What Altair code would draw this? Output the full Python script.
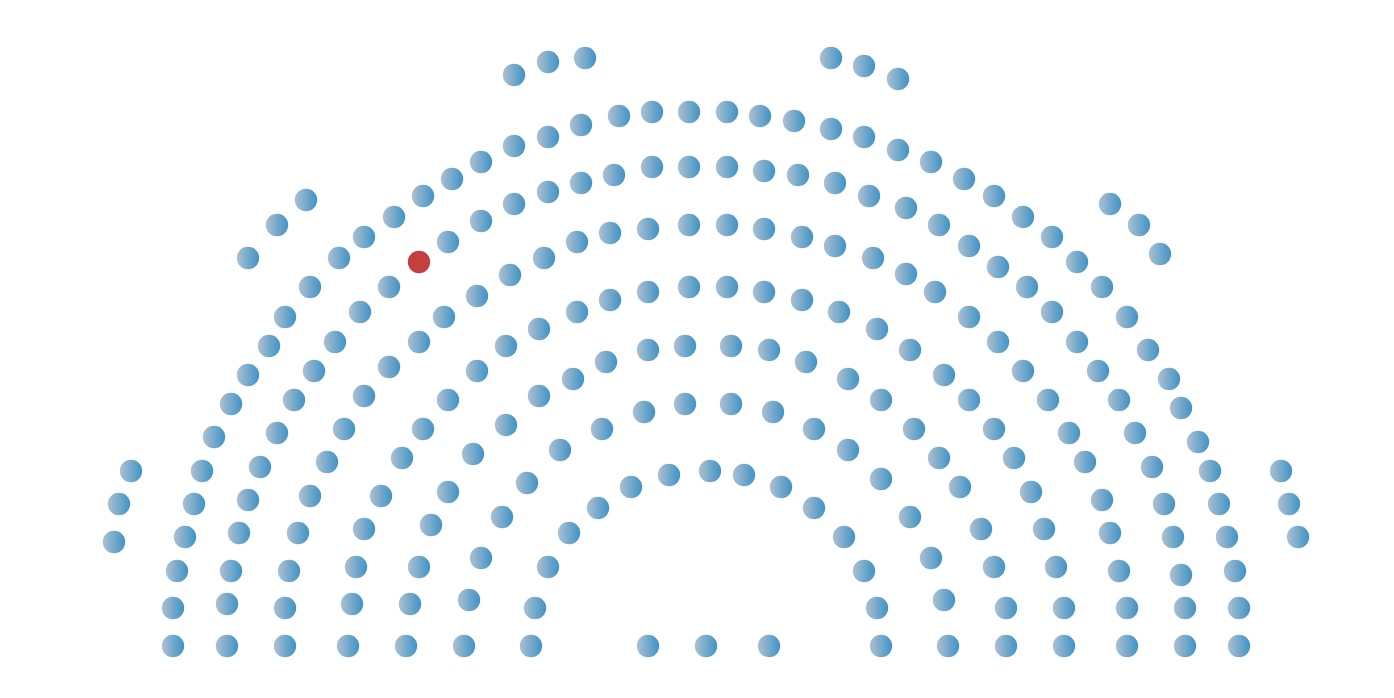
import altair as alt
import pandas as pd

seat_x = [
    514, 548, 585, 831, 864, 898,
    306, 277, 248, 1110, 1139, 1160,
    131, 119, 114, 1281, 1289, 1298,
    # arc A
    173, 173, 177, 185, 194, 202, 214, 231, 248, 269, 285, 310, 339, 364, 394, 423, 452, 481, 514, 548, 581, 619, 652, 689,
    727, 760, 794, 831, 864, 898, 931, 964, 994, 1023, 1052, 1077, 1102, 1127, 1148, 1169, 1181, 1198, 1210, 1219, 1227, 1235, 1239, 1239,
    # arc B
    227, 227, 231, 239, 248, 260, 277, 294, 314, 335, 360, 389, 419, 448, 481, 514, 548, 581, 614, 652, 689,
    727, 764, 798, 835, 869, 906, 939, 969, 998, 1027, 1052, 1077, 1098, 1119, 1135, 1152, 1164, 1173, 1181, 1185, 1185,
    # arc C
    285, 285, 289, 298, 310, 327, 344, 364, 389, 419, 444, 477, 510, 544, 577, 610, 648, 689,
    727, 764, 802, 835, 873, 906, 935, 969, 998, 1023, 1048, 1069, 1085, 1102, 1110, 1119, 1127, 1127,
    # arc D
    348, 352, 356, 364, 381, 402, 423, 448, 477, 506, 539, 577, 610, 648, 689,
    727, 764, 802, 839, 877, 910, 944, 969, 994, 1014, 1031, 1044, 1056, 1064, 1064,
    # arc E
    406, 410, 419, 431, 448, 473, 506, 539, 573, 606, 648, 685,
    731, 769, 806, 848, 881, 914, 939, 960, 981, 994, 1006, 1006,
    # arc F
    464, 469, 481, 502, 527, 560, 602, 644, 685,
    731, 773, 814, 848, 881, 910, 931, 944, 948,
    # arc G
    531, 535, 548, 569, 598, 631, 669, 710, 744, 781, 814, 844, 864, 877, 881,
    # centre bottom
    648, 706, 769,
]
seat_y = [
    75, 62, 58, 58, 66, 79,
    200, 225, 258, 204, 225, 254,
    471, 504, 542, 471, 504, 537,
    # arc A
    646, 608, 571, 537, 504, 471, 437, 404, 375, 346, 317, 287, 258, 237, 217, 196, 179, 162, 146, 137, 125, 116, 112, 112,
    112, 116, 121, 129, 137, 150, 162, 179, 196, 217, 237, 262, 287, 317, 350, 379, 408, 442, 471, 504, 537, 571, 608, 646,
    # arc B
    646, 604, 571, 533, 500, 467, 433, 400, 371, 342, 312, 287, 262, 242, 221, 204, 192, 183, 175, 167, 167,
    167, 171, 175, 183, 196, 208, 225, 246, 267, 287, 312, 342, 371, 400, 433, 467, 504, 537, 575, 608, 646,
    # arc C
    646, 608, 571, 533, 496, 462, 429, 396, 367, 342, 317, 296, 275, 258, 242, 233, 229, 225,
    225, 229, 237, 246, 258, 274, 292, 317, 342, 371, 400, 433, 462, 500, 533, 571, 608, 646,
    # arc D
    646, 604, 567, 529, 496, 458, 429, 400, 371, 346, 329, 312, 300, 292, 287,
    287, 292, 300, 312, 329, 350, 375, 400, 429, 458, 492, 529, 567, 608, 646,
    # arc E
    646, 604, 567, 525, 492, 454, 425, 396, 379, 362, 350, 346,
    346, 350, 362, 379, 400, 429, 458, 487, 529, 567, 608, 646,
    # arc F
    646, 600, 558, 517, 483, 450, 429, 412, 404,
    404, 412, 429, 450, 479, 517, 558, 600, 646,
    # arc G
    646, 608, 567, 533, 508, 487, 475, 471, 475, 487, 508, 537, 571, 608, 646,
    # centre bottom
    646, 646, 646,
]
# the one highlighted seat (arc B, left side)
highlight_seat = (419, 262)

df = pd.DataFrame({"x": seat_x, "y": seat_y})
df["hl"] = [(x, y) == highlight_seat for x, y in zip(seat_x, seat_y)]

x_enc = alt.X("x:Q", scale=alt.Scale(domain=[0, 1394], nice=False, zero=False), axis=None)
y_enc = alt.Y("y:Q", scale=alt.Scale(domain=[0, 698], nice=False, zero=False, reverse=True), axis=None)

grad = alt.Gradient(
    gradient="linear",
    stops=[alt.GradientStop(color="#adc0d2", offset=0),
           alt.GradientStop(color="#3f93c6", offset=1)],
    x1=0, x2=1, y1=0, y2=0,
)

base = alt.Chart(df)
blue = base.transform_filter("!datum.hl").mark_circle(size=500, opacity=1, fill=grad).encode(x=x_enc, y=y_enc)
red = base.transform_filter("datum.hl").mark_circle(size=500, opacity=1, color="#c43f3f").encode(x=x_enc, y=y_enc)

chart = (blue + red).properties(
    width=1394, height=698,
    autosize=alt.AutoSizeParams(type="none"),
    padding=0,
).configure_view(stroke=None)

chart.save("out.html", embed_options={"renderer": "svg", "actions": False})
